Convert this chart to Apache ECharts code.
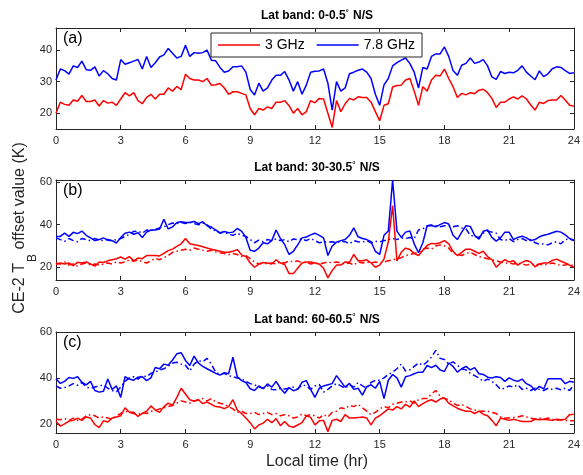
<!DOCTYPE html>
<html>
<head>
<meta charset="utf-8">
<title>CE-2 TB offset</title>
<script src="https://cdn.jsdelivr.net/npm/echarts@6/dist/echarts.min.js"></script>
<style>
  html, body { margin: 0; padding: 0; background: #fff; }
  #chartWrap { width: 583px; height: 475px; }
</style>
</head>
<body>
<div id="chartWrap"></div>
<script>
// 本地时间网格 0-24 h，步长 0.2 h
var hours = [];
for (var i = 0; i <= 120; i++) {
	hours.push(Math.round(i * 2) / 10);
}

var xTicks = [0, 3, 6, 9, 12, 15, 18, 21, 24];
var panelTitles = ['Lat band: 0-0.5', 'Lat band: 30-30.5', 'Lat band: 60-60.5'];
var panelTags = ['(a)', '(b)', '(c)'];
var yRanges = [[15, 47], [14, 61], [16, 60]];
var yTicks = [[20, 30, 40], [20, 40, 60], [20, 40, 60]];

// (a) 0-0.5
var aBlue = [
	30.5, 34, 33.5, 32.4, 35, 34.5, 36.5, 33.8, 33.6, 34.7,
	31.8, 33.5, 32.5, 31, 30.5, 37, 35.5, 36, 36.5, 37,
	34, 38, 34.5, 36, 37.8, 38.5, 40.5, 39, 37.5, 38,
	41.5, 38, 39.2, 39, 39.2, 40, 36.8, 36.6, 34.5, 33,
	33.4, 34.7, 34.7, 35, 33, 27.5, 25.8, 29.5, 27, 28,
	30.5, 32, 32, 33.2, 30.5, 27, 30, 26, 28.9, 33,
	33.3, 33.4, 34, 29.5, 21, 30, 27, 28, 32.5, 33,
	33.6, 34, 33, 31, 26, 22.5, 29, 31, 35, 36,
	36.8, 37.5, 35.7, 33, 28, 34.5, 34, 38, 38.8, 38.8,
	41, 38, 33.5, 32, 35.2, 35.8, 37.5, 35.8, 36.2, 37,
	35, 31.5, 30.7, 33.2, 32.6, 33, 32.8, 33.6, 35, 33,
	31.8, 30.6, 33.4, 31.6, 32.5, 34.1, 34.7, 34.5, 33.5, 32.6,
	32.8
];
var aRed = [
	20, 23.5, 22.8, 22.5, 24.2, 23.8, 25.6, 23.7, 23.7, 24.2,
	22.3, 24, 23.2, 23.5, 22.5, 24.5, 26.5, 25.5, 26.5, 24,
	23, 25, 26, 24.5, 26, 26, 28, 27, 28.5, 27.5,
	32.3, 31, 30.5, 30.5, 30, 31, 28.9, 29, 29.4, 28,
	26, 26.8, 26.8, 26.3, 25.8, 21.5, 19.5, 21.5, 21, 22,
	21.5, 23.5, 23.5, 24, 22.4, 20, 21.5, 19.5, 20.5, 24,
	23.3, 24.7, 24.5, 20, 15.5, 24, 20.5, 23, 24.7, 24.2,
	25.2, 25, 25, 23.5, 20.5, 17.6, 22.5, 23, 28.3, 28.8,
	28.9, 30.5, 31, 27, 22.5, 28.4, 27, 30.5, 32, 31.8,
	34, 31, 28.4, 25, 26.3, 25.8, 26.5, 26.2, 27.3, 27.6,
	26.5, 24.7, 21.8, 23.5, 23.5, 24.5, 25.2, 24.5, 25.5, 24.5,
	22.6, 21, 23.5, 23.1, 24, 24.2, 24.2, 25.6, 24.2, 22.5,
	22.3
];

// (b) 30-30.5
var bBlue = [
	34.5, 34.5, 36, 34.5, 36.4, 35.8, 37, 35, 33.8, 32.5,
	33, 33.8, 32.7, 32.5, 31.4, 34, 36, 36.5, 35.5, 36.2,
	34, 36.5, 37.5, 37.5, 38, 42.5, 38, 39, 41, 41.4,
	41, 41, 41.5, 40.5, 41.4, 39.5, 38.9, 37.5, 36.2, 36.8,
	36.2, 36.5, 38.2, 37, 34, 28, 27.5, 29, 31.5, 31,
	32.5, 37.5, 33.5, 30.6, 26, 27.5, 30.5, 33.8, 34.2, 35.2,
	36, 35, 33.8, 25.5, 30, 31.8, 32.5, 33, 35, 38.5,
	34.3, 33.5, 33, 32, 27.5, 26, 35, 37, 61, 37,
	34, 36.5, 37, 31, 26.8, 31.5, 39.5, 39.6, 39, 40,
	41, 40.3, 35, 33, 36.5, 39.5, 39.2, 35, 33.2, 36.9,
	37.5, 34, 32.3, 33.8, 36.5, 36.5, 33, 34, 34.6, 33.8,
	32.5, 33, 34.3, 35, 35.5, 36.2, 36.9, 36.5, 35.2, 33.5,
	32.7
];
var bBlueDash = [
	33.8, 33, 32.2, 33.5, 32.5, 32, 33.5, 33, 32.5, 33.5,
	32.8, 32.5, 33, 32.5, 33, 33.5, 34.5, 35.5, 36.8, 37,
	36, 37.5, 37.2, 37.8, 38.5, 39, 40, 40.8, 40.5, 41,
	40.5, 41.2, 40.5, 40, 40.8, 40, 37.7, 37.2, 36, 36.5,
	35.5, 35, 36, 35, 34.5, 33, 31.5, 32.7, 32, 33,
	32.5, 33.3, 32.5, 33, 32, 33.3, 33, 33.3, 32.5, 33.5,
	32.5, 31.5, 32, 31.8, 32, 31.5, 32.2, 32, 31, 32.5,
	32, 31.8, 32.5, 31.5, 32.2, 32, 32.5, 33, 33.5, 33,
	33.8, 33.5, 34, 33.5, 37.5, 38, 39.5, 39.8, 39.5, 39,
	39.5, 39.5, 39, 39.5, 38.5, 38, 35, 34.5, 34, 36,
	37, 36.5, 36, 33, 32.5, 33.5, 32, 33, 33.5, 32.5,
	33, 31.5, 30.8, 31, 30.5, 31.5, 32, 31, 33, 33.3,
	32.5
];
var bRed = [
	21.3, 22, 21.5, 22, 20.8, 22.3, 22, 22.5, 21.5, 20.5,
	22.5, 22.2, 23, 23.5, 24, 24.8, 23.8, 25, 23, 24.3,
	24, 25.5, 25.5, 25.5, 25.3, 26.5, 27.8, 28.5, 29.8, 31,
	33.5, 31, 30.6, 30.2, 29.6, 29, 28.5, 28, 27.5, 27,
	27, 27.5, 28.3, 25.8, 25, 22, 20, 21.5, 22.2, 22,
	21.5, 23.5, 22, 21.3, 17, 17, 19.5, 22, 22.5, 22.5,
	22, 21.5, 19.5, 15, 18.5, 21, 21, 22.5, 22.3, 26,
	23, 23, 23.5, 22, 20, 21, 23.8, 32, 49, 23,
	27, 29, 28.3, 26.5, 25.5, 28, 30.2, 31.2, 31, 31.5,
	32.5, 31, 27.5, 25.5, 27, 28.5, 28.5, 27.5, 26.5, 27.5,
	25, 23.6, 20, 22, 23.6, 22.5, 23, 21, 22.3, 23.2,
	22.5, 20.2, 21.5, 22, 22, 23.2, 23.8, 22.8, 22, 21,
	20
];
var bRedDash = [
	22, 21.5, 22.5, 21, 21.5, 20.5, 21.5, 22, 21, 21.5,
	21, 21.5, 22, 21.5, 22.5, 22, 22.5, 23.5, 22.8, 23.5,
	22.5, 22, 23, 24.2, 23.5, 24.5, 25.5, 27, 27.5, 28,
	28.5, 28, 29, 28.5, 28, 27.5, 28, 27.2, 26.8, 26.5,
	26, 26.5, 26, 25, 25.5, 24, 22.5, 21.5, 22, 21.5,
	22, 21.5, 22.5, 22, 23, 22.5, 23, 22, 22.5, 21.5,
	22, 21.5, 22, 22.5, 22, 22.5, 22, 21.5, 22, 21,
	22.5, 22, 22.5, 22, 22.5, 22, 22.5, 23, 23.5, 24,
	24.5, 25.5, 26, 26.5, 27, 28.5, 29, 28.5, 30, 30.5,
	30, 29, 26.5, 26, 25.5, 26.5, 27, 26, 25, 24.5,
	24, 23.5, 23, 22.5, 22, 22, 21.5, 22, 21.5, 21,
	21.5, 21, 21.5, 21, 21.5, 22, 21.5, 20.8, 21, 21.5,
	20.5
];

// (c) 60-60.5
var cBlue = [
	39.6, 37.6, 38.5, 40.2, 39.8, 40.5, 38.1, 37, 38.5, 34.5,
	33.8, 34.2, 39.5, 35, 36.5, 31.5, 40.5, 39.5, 39, 40.3,
	40.5, 38.8, 40, 44.5, 44, 46, 45.5, 47.8, 50.5, 51,
	47.6, 45.4, 49.5, 46.5, 45, 44, 43, 42, 41.2, 42.3,
	41.8, 49, 40.5, 38.8, 38, 35.3, 34.5, 36.5, 35.3, 37.4,
	36, 38.5, 35.5, 33.3, 35.8, 34.4, 35, 38.1, 38.8, 35,
	31.5, 35.5, 36.5, 37, 37.5, 41, 38.5, 36, 37.6, 35,
	35.5, 32.5, 36.2, 37, 35.5, 38.5, 31, 39, 41.5, 40,
	36, 40.5, 41, 41.8, 42.5, 42.5, 45.4, 44.5, 45.5, 43.5,
	42.8, 46.5, 45, 42.5, 44, 45, 43.5, 44.5, 41.8, 41.5,
	40.3, 40, 40.5, 40.2, 38.5, 40, 39, 38.5, 39.5, 37.5,
	36.6, 34.6, 36.3, 35.2, 39.6, 39.6, 39.6, 39.6, 37.5, 38.5,
	38.1
];
var cBlueDash = [
	36.5, 35.5, 35.8, 36.5, 37.5, 36.8, 38, 36, 35.5, 36,
	36.5, 37, 35.5, 34.5, 34, 36, 38.5, 40, 40.5, 39.5,
	41, 40.5, 42, 42.5, 43.5, 44, 45, 46.5, 46.8, 46,
	45.5, 43, 46, 47.5, 47, 48.5, 46, 42.5, 41.5, 42,
	41, 40.5, 40, 39.5, 38.5, 37.5, 37, 36, 35.5, 36.5,
	35, 34.8, 35.5, 35.2, 35.5, 36, 35.2, 37, 36.5, 35,
	36.5, 37.2, 33.8, 35, 36.5, 37.5, 36.5, 35.5, 37, 36,
	38, 36.5, 35.5, 38, 39, 39, 40, 41.5, 42.5, 44,
	46, 43, 43.5, 45, 46.5, 45.5, 47, 49, 52, 48.5,
	48, 46, 47, 45.5, 44, 43.5, 42, 41, 40, 38.5,
	39.5, 38.5, 37, 35, 35.5, 36.5, 36, 37, 35, 35.5,
	34.5, 35.5, 35, 34.5, 35.5, 35, 35.5, 34.8, 35.5, 34.5,
	37
];
var cRed = [
	21, 19, 20, 21.2, 21.5, 22.5, 21.5, 23, 22.5, 19.7,
	18.3, 21.3, 20.8, 22.5, 23, 23.5, 27, 25, 25, 23.2,
	24.5, 25.5, 27.8, 26, 25, 27.5, 29, 28, 31.5, 35.5,
	33, 30.5, 29.8, 30.5, 28.8, 29.5, 28.5, 27.5, 27.3, 26.6,
	27.5, 30.5, 26, 24.5, 22.5, 20.5, 17.8, 19.5, 20.3, 22,
	20.5, 22.3, 19.2, 21, 19, 18.5, 19.5, 20.5, 23.5, 22.8,
	19.5, 21.3, 21.5, 16.5, 21.5, 22, 21, 24, 22.5, 22.5,
	22.7, 23, 22.5, 19.5, 22.5, 23.5, 25, 26.5, 26, 27.5,
	26.5, 28.5, 27.3, 30, 27.5, 28.8, 29.8, 30.5, 29.5, 30.8,
	31.3, 29, 27.8, 26.8, 26, 25.5, 25.5, 24.5, 25.5, 24.2,
	23.5, 21.5, 19.2, 22.5, 22, 21.5, 22, 21.5, 21, 21,
	21, 22, 21.8, 22, 21.8, 21.5, 22, 21.8, 22, 24,
	24.2
];
var cRedDash = [
	22, 21.8, 22.3, 21.5, 22.5, 21.5, 22, 23.5, 24, 23.5,
	22.5, 23, 22.5, 22, 23.5, 24.5, 25.5, 25, 24.5, 24,
	25, 24.5, 25.5, 25.8, 26.5, 27, 27.5, 28, 29, 30,
	29.5, 29, 30, 30.5, 31, 30, 31, 29.5, 29, 28.5,
	27.5, 26.5, 25, 25.5, 24.5, 24.5, 25, 24, 24.5, 25,
	24, 24.5, 23.5, 24, 23.5, 22.5, 23, 24.2, 23.5, 24,
	23.5, 22.5, 24, 23, 25, 25.5, 27, 26.5, 28, 27.5,
	28.5, 27, 25.5, 24, 25, 26.5, 27.5, 27, 28.5, 29,
	29.5, 29.5, 30, 29, 30.5, 31, 31, 33, 34.5, 32,
	31, 30.5, 29, 28, 28.5, 27.5, 26.5, 26, 25.5, 25.5,
	25.5, 25, 24.5, 23, 22.5, 22.5, 22.8, 23, 23.5, 23,
	22.5, 22, 22.5, 22, 22.5, 22, 21.5, 21.8, 21.5, 21.3,
	21.3
];

var RED = '#ff0000';
var BLUE = '#0000ff';
var AXIS = '#262626';
var FONT = '"Liberation Sans", Arial, Helvetica, sans-serif';

// 面板位置（像素）
var panelTop = [28, 180, 332];
var panelHeight = [101, 100, 101];

function makeSeries(name, g, vals, color, dashed) {
	var data = [];
	for (var i = 0; i < hours.length; i++) {
		data.push([hours[i], vals[i]]);
	}
	return {
		name: name,
		type: 'line',
		xAxisIndex: g * 2,
		yAxisIndex: g * 2,
		data: data,
		symbol: 'none',
		showSymbol: false,
		silent: true,
		itemStyle: { color: color },
		lineStyle: { color: color, width: 1.5, type: dashed ? [6, 3, 1.5, 3] : 'solid' },
		z: dashed ? 2 : 3
	};
}

var grids = [], xAxes = [], yAxes = [], graphics = [];
for (var g = 0; g < 3; g++) {
	grids.push({ left: 56, right: 5, top: panelTop[g], height: panelHeight[g], containLabel: false });
	// 下方 x 轴（带标签）
	xAxes.push({
		type: 'value', gridIndex: g, min: 0, max: 24, interval: 3, position: 'bottom',
		axisLine: { onZero: false, lineStyle: { color: AXIS, width: 1 } },
		axisTick: { inside: true, length: 4, lineStyle: { color: AXIS } },
		axisLabel: { margin: 6, fontSize: 11, color: AXIS, fontFamily: FONT },
		splitLine: { show: false }
	});
	// 上方 x 轴（只画框线和刻度）
	xAxes.push({
		type: 'value', gridIndex: g, min: 0, max: 24, interval: 3, position: 'top',
		axisLine: { onZero: false, lineStyle: { color: AXIS, width: 1 } },
		axisTick: { inside: true, length: 4, lineStyle: { color: AXIS } },
		axisLabel: { show: false },
		splitLine: { show: false }
	});
	yAxes.push({
		type: 'value', gridIndex: g, min: yRanges[g][0], max: yRanges[g][1], position: 'left',
		axisLine: { show: true, onZero: false, lineStyle: { color: AXIS, width: 1 } },
		axisTick: { show: true, inside: true, length: 4, customValues: yTicks[g], lineStyle: { color: AXIS } },
		axisLabel: { margin: 4, fontSize: 11, color: AXIS, fontFamily: FONT, customValues: yTicks[g] },
		splitLine: { show: false }
	});
	yAxes.push({
		type: 'value', gridIndex: g, min: yRanges[g][0], max: yRanges[g][1], position: 'right',
		axisLine: { show: true, onZero: false, lineStyle: { color: AXIS, width: 1 } },
		axisTick: { show: true, inside: true, length: 4, customValues: yTicks[g], lineStyle: { color: AXIS } },
		axisLabel: { show: false },
		splitLine: { show: false }
	});

	// 面板标题
	graphics.push({
		type: 'text', x: 317, y: panelTop[g] - 12,
		style: {
			text: panelTitles[g] + '{deg|°} N/S',
			font: 'bold 12px ' + FONT,
			fill: '#000',
			textAlign: 'center',
			textVerticalAlign: 'middle',
			rich: { deg: { fontSize: 8, fontWeight: 'bold', fontFamily: FONT, verticalAlign: 'top', padding: [0, 1, 6, 0] } }
		}
	});
	// (a)(b)(c)
	graphics.push({
		type: 'text', x: 63, y: panelTop[g] + 11,
		style: { text: panelTags[g], font: '16px ' + FONT, fill: '#000', textAlign: 'left', textVerticalAlign: 'middle' }
	});
}

// x、y 轴名称
graphics.push({
	type: 'text', x: 317, y: 462,
	style: { text: 'Local time (hr)', font: '16px ' + FONT, fill: AXIS, textAlign: 'center', textVerticalAlign: 'middle' }
});
graphics.push({
	type: 'text', x: 25, y: 228, rotation: Math.PI / 2,
	style: {
		text: '{n|CE-2 T}{sub|B}{n| offset value (K)}',
		fill: AXIS,
		textAlign: 'center',
		textVerticalAlign: 'middle',
		rich: {
			n: { fontSize: 16, fontFamily: FONT, color: AXIS, verticalAlign: 'top', lineHeight: 20 },
			sub: { fontSize: 12, fontFamily: FONT, color: AXIS, verticalAlign: 'bottom', lineHeight: 27, padding: [0, 0, 0, 1] }
		}
	}
});

var series = [
	makeSeries('3 GHz', 0, aRed, RED, false),
	makeSeries('7.8 GHz', 0, aBlue, BLUE, false),
	makeSeries('3 GHz (b)', 1, bRedDash, RED, true),
	makeSeries('7.8 GHz (b)', 1, bBlueDash, BLUE, true),
	makeSeries('3 GHz (b) ', 1, bRed, RED, false),
	makeSeries('7.8 GHz (b) ', 1, bBlue, BLUE, false),
	makeSeries('3 GHz (c)', 2, cRedDash, RED, true),
	makeSeries('7.8 GHz (c)', 2, cBlueDash, BLUE, true),
	makeSeries('3 GHz (c) ', 2, cRed, RED, false),
	makeSeries('7.8 GHz (c) ', 2, cBlue, BLUE, false)
];

var myChart = echarts.init(document.getElementById('chartWrap'), null, { renderer: 'canvas' });
var option = {
	animation: false,
	backgroundColor: '#fff',
	grid: grids,
	xAxis: xAxes,
	yAxis: yAxes,
	legend: {
		data: ['3 GHz', '7.8 GHz'],
		left: 211,
		top: 33,
		orient: 'horizontal',
		icon: 'rect',
		itemWidth: 42,
		itemHeight: 1.5,
		itemGap: 12,
		padding: [4, 7],
		borderColor: AXIS,
		borderWidth: 1,
		backgroundColor: '#fff',
		selectedMode: false,
		textStyle: { fontSize: 14, color: '#000', fontFamily: FONT, lineHeight: 16 }
	},
	graphic: graphics,
	series: series
};
myChart.setOption(option, true);
</script>
</body>
</html>
